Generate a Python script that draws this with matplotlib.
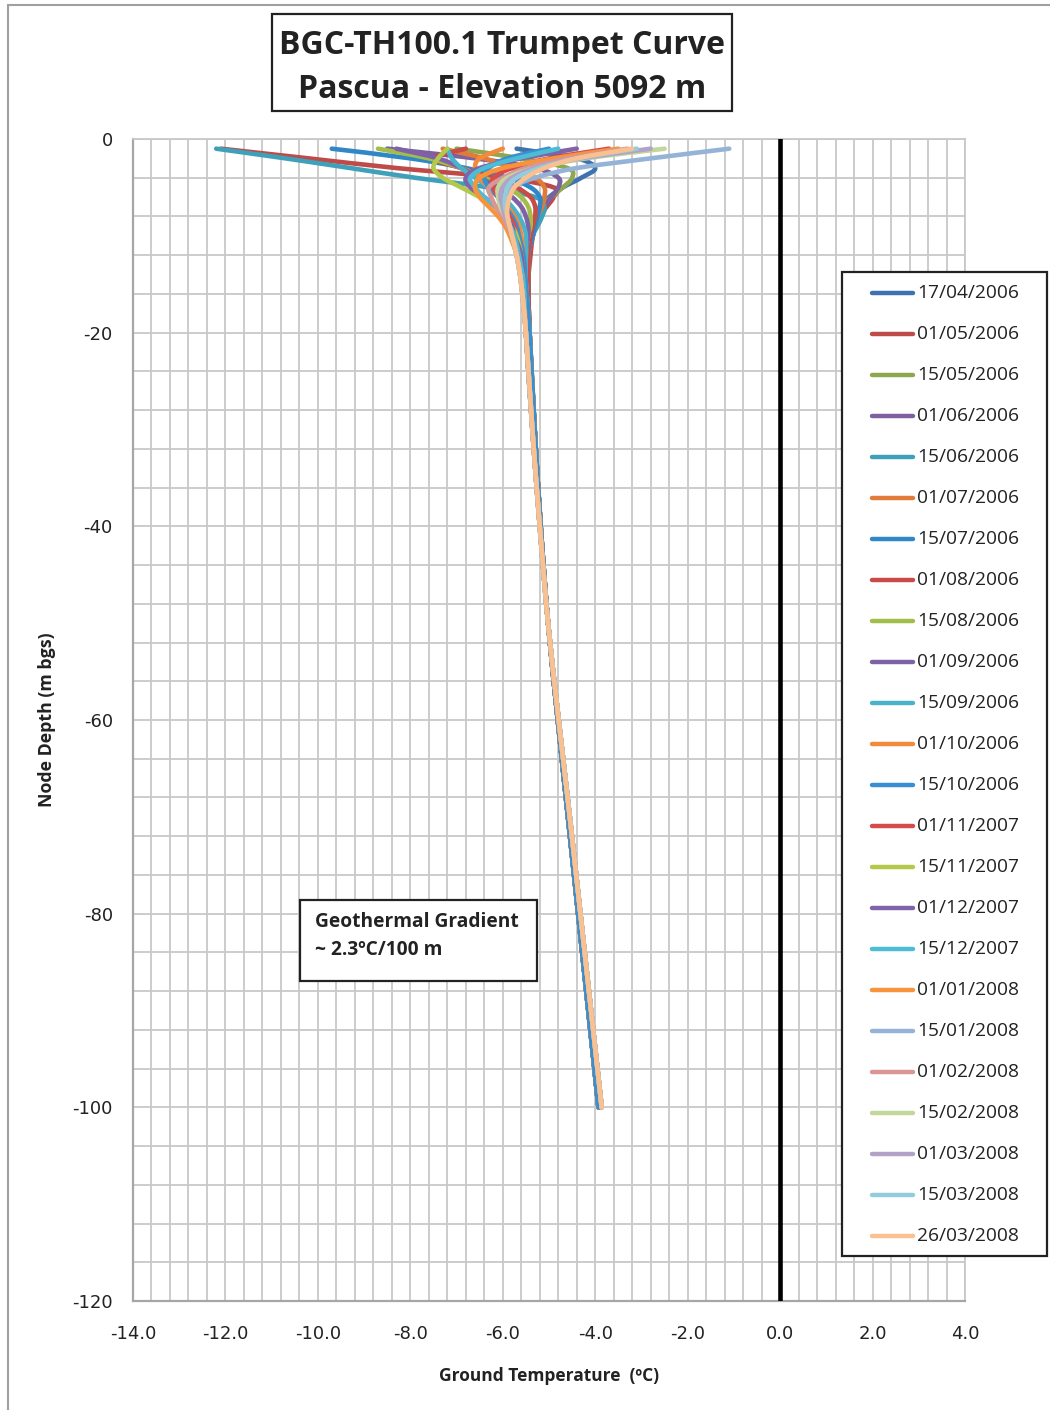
import numpy as np
import matplotlib
matplotlib.use("Agg")
from matplotlib import pyplot as plt
from matplotlib.patches import Rectangle, PathPatch
from matplotlib.lines import Line2D
from matplotlib.path import Path

### BGC-TH100.1 thermistor string, Pascua ###
# one profile per reading date, node depth in m below ground surface

dates = ["17/04/2006", "01/05/2006", "15/05/2006", "01/06/2006", "15/06/2006",
         "01/07/2006", "15/07/2006", "01/08/2006", "15/08/2006", "01/09/2006",
         "15/09/2006", "01/10/2006", "15/10/2006", "01/11/2007", "15/11/2007",
         "01/12/2007", "15/12/2007", "01/01/2008", "15/01/2008", "01/02/2008",
         "15/02/2008", "01/03/2008", "15/03/2008", "26/03/2008"]

colours = ["#3f73b0", "#be4b48", "#8fa84f", "#7d60a0", "#3ea1b9", "#e07b39",
           "#2f87c8", "#c94a47", "#a3bd4a", "#7f62a5", "#4ab3cc", "#f28a3c",
           "#3a8fd0", "#d64b4b", "#b3c94c", "#8063a8", "#4dbcd6", "#f7933a",
           "#95b3d7", "#d99694", "#c3d69b", "#b3a2c7", "#93cddd", "#fac090"]

# upper nodes (seasonal zone)
depth_shallow = [1, 2, 3, 4, 5, 6, 7, 8, 9, 10, 12, 15]
temp_shallow = [
    [-5.7, -4.4, -4.0, -4.3, -4.7, -5.0, -5.2, -5.3, -5.35, -5.4, -5.45, -5.45],
    [-12.1, -10.2, -8.3, -6.0, -4.9, -4.9, -5.05, -5.2, -5.3, -5.35, -5.4, -5.45],
    [-7.0, -5.6, -4.6, -4.5, -4.7, -4.95, -5.15, -5.25, -5.35, -5.4, -5.45, -5.45],
    [-8.5, -6.6, -5.3, -4.8, -4.8, -4.95, -5.1, -5.2, -5.3, -5.35, -5.45, -5.45],
    [-12.2, -10.7, -9.3, -7.9, -6.3, -5.3, -5.1, -5.15, -5.25, -5.35, -5.45, -5.45],
    [-7.3, -6.4, -5.8, -5.3, -5.1, -5.1, -5.15, -5.25, -5.3, -5.35, -5.45, -5.45],
    [-9.7, -8.0, -6.8, -5.9, -5.4, -5.2, -5.2, -5.25, -5.3, -5.35, -5.45, -5.45],
    [-6.8, -7.5, -6.9, -6.2, -5.7, -5.4, -5.3, -5.3, -5.35, -5.4, -5.45, -5.45],
    [-8.7, -7.6, -6.9, -6.4, -5.9, -5.6, -5.45, -5.4, -5.4, -5.45, -5.5, -5.5],
    [-8.3, -7.4, -6.9, -6.5, -6.1, -5.8, -5.6, -5.5, -5.45, -5.45, -5.5, -5.5],
    [-7.2, -7.1, -6.9, -6.6, -6.3, -6.0, -5.8, -5.65, -5.55, -5.5, -5.5, -5.5],
    [-6.0, -6.5, -6.6, -6.5, -6.3, -6.1, -5.9, -5.75, -5.65, -5.6, -5.55, -5.5],
    [-5.0, -5.9, -6.3, -6.4, -6.3, -6.1, -5.95, -5.8, -5.7, -5.65, -5.55, -5.5],
    [-3.7, -5.0, -5.8, -6.2, -6.2, -6.1, -6.0, -5.85, -5.75, -5.7, -5.6, -5.55],
    [-7.2, -7.4, -7.5, -7.3, -6.9, -6.5, -6.15, -5.95, -5.8, -5.7, -5.6, -5.55],
    [-4.4, -5.6, -6.5, -6.8, -6.7, -6.4, -6.15, -5.95, -5.8, -5.75, -5.6, -5.55],
    [-4.8, -5.7, -6.4, -6.7, -6.6, -6.4, -6.15, -6.0, -5.85, -5.75, -5.65, -5.55],
    [-3.5, -4.9, -6.0, -6.5, -6.6, -6.5, -6.3, -6.1, -5.95, -5.85, -5.7, -5.6],
    [-1.1, -2.8, -4.4, -5.3, -5.8, -5.95, -5.95, -5.9, -5.85, -5.8, -5.7, -5.6],
    [-3.3, -4.6, -5.5, -6.0, -6.3, -6.25, -6.15, -6.0, -5.9, -5.8, -5.7, -5.6],
    [-2.5, -4.2, -5.3, -5.9, -6.1, -6.1, -6.05, -5.95, -5.85, -5.8, -5.7, -5.6],
    [-2.8, -4.3, -5.3, -5.8, -6.0, -6.05, -6.0, -5.95, -5.85, -5.8, -5.7, -5.6],
    [-3.1, -4.4, -5.2, -5.7, -5.9, -5.95, -5.95, -5.9, -5.85, -5.8, -5.7, -5.6],
    [-3.2, -4.4, -5.1, -5.5, -5.75, -5.85, -5.9, -5.9, -5.85, -5.8, -5.7, -5.6],
]

# lower nodes - below ~20 m the readings sit on one line per season of data
depth_deep = [20, 30, 40, 50, 60, 70, 80, 90, 100]
temp_deep_2006 = [-5.42, -5.31, -5.18, -5.02, -4.81, -4.59, -4.37, -4.15, -3.93]
temp_deep_2008 = [-5.50, -5.36, -5.20, -5.02, -4.79, -4.55, -4.32, -4.09, -3.86]

label_font = "Open Sans"
tick_font = "Liberation Sans Narrow"
text_col = "#222222"
W, H = 1050, 1410


def fx(x):
    return x / W


def fy(y):
    return 1 - y / H


def smooth_path(x, y):
    # smoothed line through the nodes (bezier, like a spreadsheet "smoothed line")
    pts = np.column_stack([x, y])
    n = len(pts)
    verts = [pts[0]]
    codes = [Path.MOVETO]
    for k in range(n - 1):
        p0 = pts[max(k - 1, 0)]
        p1 = pts[k]
        p2 = pts[k + 1]
        p3 = pts[min(k + 2, n - 1)]
        verts += [p1 + (p2 - p0) / 6, p2 - (p3 - p1) / 6, p2]
        codes += [Path.CURVE4] * 3
    return Path(verts, codes)


fig = plt.figure(figsize=(10.5, 14.1), dpi=100)
ax = fig.add_axes([fx(133), 109 / H, 832 / W, 1162 / H])

# gridlines every 0.4 degC and every 4 m
ax.set_xticks(np.arange(-14, 4.01, 0.4), minor=True)
ax.set_yticks(np.arange(-120, 0.1, 4), minor=True)
ax.set_xticks(np.arange(-14, 4.01, 2))
ax.set_yticks(np.arange(-120, 0.1, 20))
ax.grid(True, which="both", color="#c8c8c8", linewidth=1.3)
ax.set_axisbelow(True)
ax.tick_params(which="both", length=0)
ax.tick_params(axis="x", pad=17.5)
ax.tick_params(axis="y", pad=14.5)
ax.set_xticklabels(["%.1f" % v for v in np.arange(-14, 4.01, 2)])
ax.set_yticklabels(["%d" % v for v in np.arange(-120, 0.1, 20)])
for lab in ax.get_xticklabels() + ax.get_yticklabels():
    lab.set_fontfamily(tick_font)
    lab.set_fontsize(13)
    lab.set_color(text_col)

for side in ["left", "bottom"]:
    ax.spines[side].set_color("#a6a6a6")
    ax.spines[side].set_linewidth(1.6)
for side in ["top", "right"]:
    ax.spines[side].set_color("#c8c8c8")
    ax.spines[side].set_linewidth(1.3)

# the 0 degC line
ax.axvline(0, color="black", linewidth=3.3, zorder=3)

for i in range(len(dates)):
    if dates[i].endswith("2006"):
        deep = temp_deep_2006
    else:
        deep = temp_deep_2008
    depth = np.array(depth_shallow + depth_deep, dtype=float)
    temp = np.array(temp_shallow[i] + deep)
    ax.add_patch(PathPatch(smooth_path(temp, -depth), fill=False,
                           edgecolor=colours[i], linewidth=3.3,
                           capstyle="round", joinstyle="round", zorder=4 + i))

ax.set_xlim(-14, 4)
ax.set_ylim(-120, 0)

ax.set_xlabel("Ground Temperature  (ºC)", fontfamily=label_font,
              fontweight="bold", fontsize=12.5, color=text_col)
ax.set_ylabel("Node Depth (m bgs)", fontfamily=label_font,
              fontweight="bold", fontsize=12.8, color=text_col)
ax.xaxis.set_label_coords(0.5, -0.057)
ax.yaxis.set_label_coords(-0.0925, 0.5)

# gradient note
fig.patches.append(Rectangle((fx(300), fy(981)), 237 / W, 81 / H,
                             transform=fig.transFigure, facecolor="white",
                             edgecolor=text_col, linewidth=1.6, zorder=39))
fig.text(fx(315), fy(922), "Geothermal Gradient", ha="left", va="center",
         fontfamily=label_font, fontweight="bold", fontsize=13.8,
         color=text_col, zorder=40)
fig.text(fx(315), fy(950), "~ 2.3ºC/100 m", ha="left", va="center",
         fontfamily=label_font, fontweight="bold", fontsize=13.8,
         color=text_col, zorder=40)

# legend box
fig.patches.append(Rectangle((fx(842), fy(1256)), 205 / W, 984 / H,
                             transform=fig.transFigure, facecolor="white",
                             edgecolor=text_col, linewidth=1.6, zorder=39))
for i in range(len(dates)):
    y = 293 + 41 * i
    fig.add_artist(Line2D([fx(872), fx(913)], [fy(y), fy(y)],
                          transform=fig.transFigure, color=colours[i],
                          linewidth=3.2, solid_capstyle="round", zorder=40))
    fig.text(fx(917), fy(y), dates[i], ha="left", va="center",
             fontfamily=label_font, fontsize=13.8, color=text_col, zorder=40)

# title box
fig.patches.append(Rectangle((fx(272), fy(111)), 460 / W, 97 / H,
                             transform=fig.transFigure, facecolor="white",
                             edgecolor=text_col, linewidth=1.6))
fig.text(fx(502), fy(45), "BGC-TH100.1 Trumpet Curve", ha="center",
         va="center", fontfamily=label_font, fontweight="bold", fontsize=23,
         color=text_col)
fig.text(fx(502), fy(90), "Pascua - Elevation 5092 m", ha="center",
         va="center", fontfamily=label_font, fontweight="bold", fontsize=23,
         color=text_col)

# page border
fig.patches.append(Rectangle((fx(8), -0.05), 1.1, fy(5) + 0.05,
                             transform=fig.transFigure, fill=False,
                             edgecolor="#a0a0a0", linewidth=1.5))

fig.savefig("out.png", dpi=100)
